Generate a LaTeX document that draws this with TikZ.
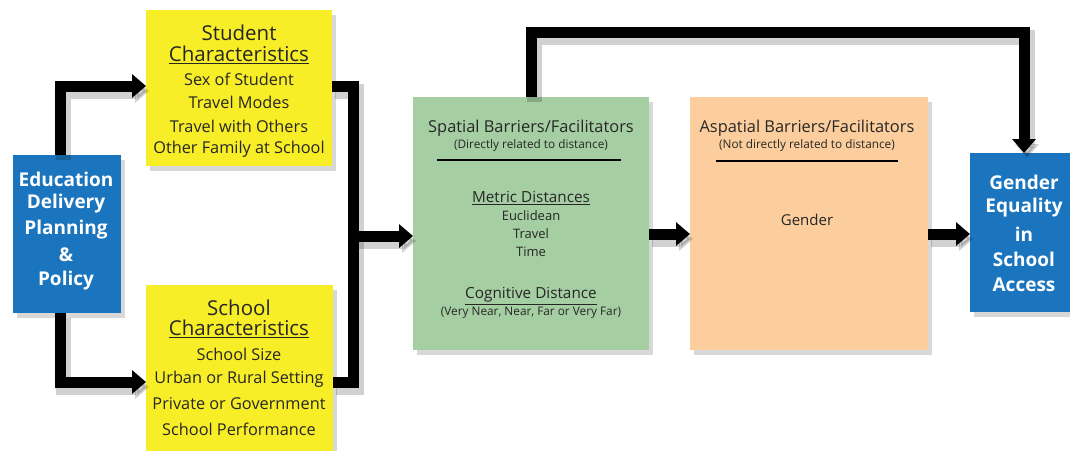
\documentclass[tikz,border=0pt]{standalone}
\usepackage{fontspec}
\setmainfont{Open Sans}
\usetikzlibrary{arrows.meta,shadows}
\definecolor{yel}{RGB}{248,238,40}
\definecolor{grn}{RGB}{166,206,163}
\definecolor{org}{RGB}{252,206,157}
\definecolor{blu}{RGB}{26,117,190}
\begin{document}
\begin{tikzpicture}[x=1pt,y=-1pt,
  box/.style={draw=none,inner sep=0pt,anchor=north west,
    drop shadow={opacity=0.3,shadow xshift=4pt,shadow yshift=-5pt}},
  conn/.style={line width=11pt,draw=black,line join=miter,
    preaction={draw=black,opacity=0.18,line width=15pt,
      transform canvas={shift={(3pt,-5pt)}}}},
  tip/.style={-{Triangle[length=14pt,width=23pt]}},
  t/.style={inner sep=0pt,text=black!85},
  ttl/.style={t,font=\fontsize{20.5}{22}\selectfont},
  itm/.style={t,font=\fontsize{16.3}{18}\selectfont},
  bt/.style={inner sep=0pt,text=white,font=\bfseries\fontsize{19}{21}\selectfont},
  hd/.style={t,font=\fontsize{16.4}{18}\selectfont},
  sm/.style={t,font=\fontsize{11.8}{13}\selectfont},
  sub/.style={t,font=\fontsize{15.3}{17}\selectfont},
  it2/.style={t,font=\fontsize{13}{15}\selectfont}]
\useasboundingbox (0,0) rectangle (1070,450);
\fill[white] (0,0) rectangle (1070,450);

% boxes
\node[box,fill=blu,minimum width=108pt,minimum height=158pt] (edu) at (13,155) {};
\node[box,fill=yel,minimum width=186pt,minimum height=156pt] (stu) at (146,10) {};
\node[box,fill=yel,minimum width=187pt,minimum height=175pt] (sch) at (146,285) {};
\node[box,fill=grn,minimum width=236pt,minimum height=253pt] (spa) at (413,97) {};
\node[box,fill=org,minimum width=238pt,minimum height=253pt] (asp) at (690,97) {};
\node[box,fill=blu,minimum width=105pt,minimum height=159pt] (geq) at (970,153) {};

% coordinates
\coordinate (c1) at (60,155);
\coordinate (c2) at (60,313);
\coordinate (m1) at (353,86);
\coordinate (m2) at (353,382);
\coordinate (mj) at (353,236);
\coordinate (g1) at (531,97);
\coordinate (g2) at (531,32);
\coordinate (r1) at (1024,32);

% connectors
\draw[conn,tip] (c1) |- (stu.west |- m1);
\draw[conn,tip] (c2) |- (sch.west |- m2);
\draw[conn] (stu.east |- m1) -- (m1) -- (m2) -- (sch.east |- m2);
\draw[conn,tip] (mj) -- (spa.west |- mj);
\draw[conn,tip] (spa.east |- 0,234) -- (asp.west |- 0,234);
\draw[conn,tip] (asp.east |- 0,234) -- (geq.west |- 0,234);
\draw[conn,tip] (g1) -- (g2) -- (r1) -- (geq.north -| r1);

% left blue text
\node[bt] (e1) at (66,179) {Education};
\node[bt] (e2) at (66,204) {Delivery};
\node[bt] (e3) at (66,230) {Planning};
\node[bt] (e4) at (66,255) {\&};
\node[bt] (e5) at (66,281) {Policy};

% student
\node[ttl] (s1) at (239,33) {Student};
\node[ttl] (s2) at (239,55) {\underline{Characteristics}};
\node[itm] (s3) at (239,79) {Sex of Student};
\node[itm] (s4) at (239,102) {Travel Modes};
\node[itm] (s5) at (239,126) {Travel with Others};
\node[itm] (s6) at (239,149) {Other Family at School};

% school
\node[ttl] (h1) at (239,308) {School};
\node[ttl] (h2) at (239,329) {\underline{Characteristics}};
\node[itm] (h3) at (239,354) {School Size};
\node[itm] (h4) at (239,379) {Urban or Rural Setting};
\node[itm] (h5) at (239,404) {Private or Government};
\node[itm] (h6) at (239,429) {School Performance};

% spatial
\node[hd] (p1) at (531,128) {Spatial Barriers/Facilitators};
\node[sm] (p2) at (531,145) {(Directly related to distance)};
\draw[line width=1.3pt] (437,160) -- (621,160);
\node[sub] (p3) at (531,198) {\underline{Metric Distances}};
\node[it2] (p4) at (531,216) {Euclidean};
\node[it2] (p5) at (531,234) {Travel};
\node[it2] (p6) at (531,252) {Time};
\node[sub] (p7) at (531,296) {\underline{Cognitive Distance}};
\node[sm] (p8) at (531,313) {(Very Near, Near, Far or Very Far)};

% aspatial
\node[hd] (a1) at (807,128) {Aspatial Barriers/Facilitators};
\node[sm] (a2) at (807,145) {(Not directly related to distance)};
\draw[line width=1.3pt] (716,161) -- (898,161);
\node[it2,font=\fontsize{15}{17}\selectfont] (a3) at (807,220) {Gender};

% right blue text
\node[bt] (q1) at (1024,182) {Gender};
\node[bt] (q2) at (1024,208) {Equality};
\node[bt] (q3) at (1024,234) {in};
\node[bt] (q4) at (1024,259) {School};
\node[bt] (q5) at (1024,285) {Access};
\end{tikzpicture}
\end{document}
